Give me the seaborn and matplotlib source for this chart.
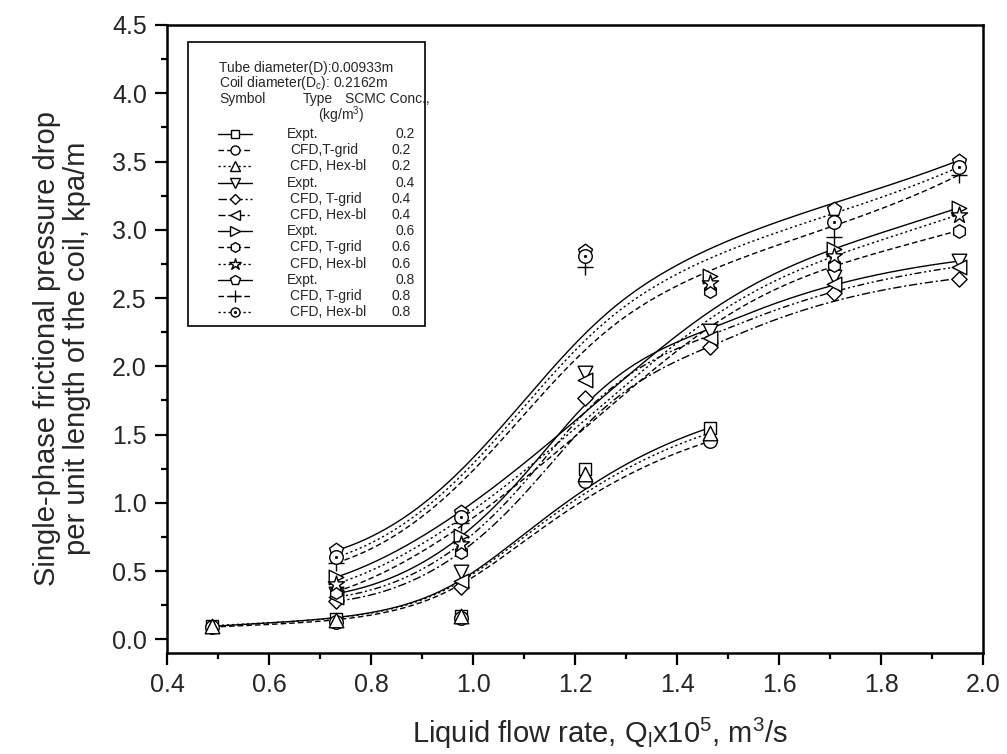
import numpy as np
import matplotlib
matplotlib.use("Agg")
import matplotlib.pyplot as plt
import seaborn as sns
from matplotlib.lines import Line2D
from matplotlib.patches import Rectangle

# ---------------- data ----------------
x_02 = [0.488, 0.732, 0.976, 1.220, 1.464]
expt_02 = [0.095, 0.150, 0.170, 1.245, 1.550]
tgrid_02 = [0.090, 0.130, 0.160, 1.160, 1.450]
hex_02 = [0.100, 0.145, 0.170, 1.210, 1.510]

x_04 = [0.732, 0.976, 1.220, 1.464, 1.708, 1.952]
expt_04 = [0.335, 0.495, 1.950, 2.257, 2.652, 2.770]
tgrid_04 = [0.280, 0.380, 1.770, 2.140, 2.537, 2.643]
hex_04 = [0.310, 0.430, 1.900, 2.210, 2.600, 2.730]

x_06 = [0.732, 0.976, 1.464, 1.708, 1.952]
expt_06 = [0.456, 0.756, 2.660, 2.862, 3.160]
tgrid_06 = [0.350, 0.640, 2.550, 2.745, 2.994]
hex_06 = [0.407, 0.695, 2.610, 2.806, 3.110]

x_08 = [0.732, 0.976, 1.220, 1.708, 1.952]
expt_08 = [0.651, 0.934, 2.848, 3.155, 3.507]
tgrid_08 = [0.560, 0.854, 2.730, 2.945, 3.400]
hex_08 = [0.602, 0.895, 2.806, 3.057, 3.458]

concentrations = ["0.2", "0.4", "0.6", "0.8"]
type_labels = [
    ["Expt.", "CFD,T-grid", "CFD, Hex-bl"],
    ["Expt.", "CFD, T-grid", "CFD, Hex-bl"],
    ["Expt.", "CFD, T-grid", "CFD, Hex-bl"],
    ["Expt.", "CFD, T-grid", "CFD, Hex-bl"],
]
x_ticks = [0.4, 0.6, 0.8, 1.0, 1.2, 1.4, 1.6, 1.8, 2.0]
y_ticks = [0.0, 0.5, 1.0, 1.5, 2.0, 2.5, 3.0, 3.5, 4.0, 4.5]

# ---------------- style ----------------
sns.set_style("ticks")
plt.rcParams["font.family"] = ["Liberation Sans", "DejaVu Sans"]
plt.rcParams["mathtext.fontset"] = "custom"
plt.rcParams["mathtext.rm"] = "Liberation Sans"
plt.rcParams["mathtext.it"] = "Liberation Sans:italic"
plt.rcParams["mathtext.bf"] = "Liberation Sans:bold"

SOLID = "-"
DASH = (0, (4, 2.2))
DOT = (0, (1.6, 2.0))
DASHDOT = (0, (6, 2, 1.5, 2))
DASHDOTDOT = (0, (5, 2, 1.5, 2, 1.5, 2))

series = [
    (x_02, expt_02, "s", SOLID),
    (x_02, tgrid_02, "o", DASH),
    (x_02, hex_02, "^", DOT),
    (x_04, expt_04, "v", SOLID),
    (x_04, tgrid_04, "D", DASHDOT),
    (x_04, hex_04, "<", DASHDOTDOT),
    (x_06, expt_06, ">", SOLID),
    (x_06, tgrid_06, "h", DASH),
    (x_06, hex_06, "*", DOT),
    (x_08, expt_08, "p", SOLID),
    (x_08, tgrid_08, "+", DASH),
    (x_08, hex_08, "odot", DOT),
]
marker_size = {"s": 85, "o": 95, "^": 110, "v": 110, "D": 60, "<": 110, ">": 110,
               "h": 95, "*": 150, "p": 110, "+": 140, "odot": 95}


def bspline(xs, ys, n=400):
    """Clamped uniform B-spline using the data points as control points."""
    P = np.column_stack([xs, ys]).astype(float)
    m = len(P)
    k = min(3, m - 1)
    n_int = m - k - 1
    knots = np.concatenate([np.zeros(k + 1),
                            np.linspace(0, 1, n_int + 2)[1:-1],
                            np.ones(k + 1)])
    T = np.linspace(0, 1, n)
    N = np.zeros((len(knots) - 1, n))
    for i in range(len(knots) - 1):
        N[i] = ((knots[i] <= T) & (T < knots[i + 1])).astype(float)
    last = np.max(np.where(knots[:-1] < knots[1:])[0])
    N[last, -1] = 1.0
    for p in range(1, k + 1):
        Nn = np.zeros((len(knots) - 1 - p, n))
        for i in range(len(knots) - 1 - p):
            d1 = knots[i + p] - knots[i]
            d2 = knots[i + p + 1] - knots[i + 1]
            a = (T - knots[i]) / d1 * N[i] if d1 > 0 else 0.0
            b = (knots[i + p + 1] - T) / d2 * N[i + 1] if d2 > 0 else 0.0
            Nn[i] = a + b
        N = Nn
    C = N.T @ P
    return C[:, 0], C[:, 1]


W, H = 1007, 754
fig = plt.figure(figsize=(W / 100, H / 100), dpi=100)
L, R, B, Tp = 167, 983, 653, 25
ax = fig.add_axes([L / W, 1 - B / H, (R - L) / W, (B - Tp) / H])

# curves
for xs, ys, mk, ls in series:
    cx, cy = bspline(xs, ys)
    sns.lineplot(x=cx, y=cy, sort=False, estimator=None, color="black",
                 linewidth=1.0, linestyle=ls, ax=ax, zorder=2)

# markers
for xs, ys, mk, ls in series:
    if mk == "+":
        sns.scatterplot(x=xs, y=ys, marker="+", s=marker_size[mk], color="black",
                        linewidth=1.0, ax=ax, zorder=4)
    elif mk == "odot":
        sns.scatterplot(x=xs, y=ys, marker="o", s=marker_size[mk], color="white",
                        edgecolor="black", linewidth=1.0, ax=ax, zorder=4)
        sns.scatterplot(x=xs, y=ys, marker="o", s=3, color="black",
                        edgecolor="black", linewidth=0.5, ax=ax, zorder=5)
    else:
        sns.scatterplot(x=xs, y=ys, marker=mk, s=marker_size[mk], color="white",
                        edgecolor="black", linewidth=1.0, ax=ax, zorder=4)

ax.set_xlim(0.4, 2.0)
ax.set_ylim(-0.1, 4.5)
ax.set_xticks(x_ticks)
ax.set_xticklabels([f"{v:.1f}" for v in x_ticks])
ax.set_yticks(y_ticks)
ax.set_yticklabels([f"{v:.1f}" for v in y_ticks])
ax.set_xticks(np.arange(0.5, 2.0, 0.2), minor=True)
ax.set_yticks(np.arange(0.25, 4.5, 0.5), minor=True)
ax.tick_params(which="major", direction="out", length=8.5, width=1.6,
               labelsize=18, color="black", pad=6)
ax.tick_params(which="minor", direction="out", length=4.5, width=1.6, color="black")
for sp in ax.spines.values():
    sp.set_visible(True)
    sp.set_linewidth(1.8)
    sp.set_color("black")

ax.set_xlabel("Liquid flow rate, Q$_\\mathregular{l}$x10$^\\mathregular{5}$, m$^\\mathregular{3}$/s",
              fontsize=21)
ax.xaxis.set_label_coords((600 - L) / (R - L), -(733 - B) / (B - Tp), transform=ax.transAxes)
ax.xaxis.label.set_va("center")
ax.set_ylabel("Single-phase frictional pressure drop\nper unit length of the coil, kpa/m",
              fontsize=21, linespacing=1.1)
ax.yaxis.set_label_coords(-(167 - 62) / (R - L), (B - 348) / (B - Tp), transform=ax.transAxes)
ax.yaxis.label.set_va("center")


# ---------------- legend box (in figure pixels) ----------------
def fx(px):
    return px / W


def fy(py):
    return 1 - py / H


box_l, box_t, box_r, box_b = 188, 42, 425, 326
fig.patches.append(Rectangle((fx(box_l), fy(box_b)), fx(box_r) - fx(box_l),
                             fy(box_t) - fy(box_b), transform=fig.transFigure,
                             fill=False, lw=1.2, ec="black", zorder=10))
fs = 10
fig.text(fx(219), fy(68), "Tube diameter(D):0.00933m", fontsize=fs, va="center")
fig.text(fx(219), fy(83), "Coil diameter(D$_\\mathregular{c}$): 0.2162m", fontsize=fs, va="center")
fig.text(fx(219), fy(99), "Symbol", fontsize=fs, va="center")
fig.text(fx(303), fy(99), "Type", fontsize=fs, va="center")
fig.text(fx(345), fy(99), "SCMC Conc.,", fontsize=fs, va="center")
fig.text(fx(318), fy(115), "(kg/m$^\\mathregular{3}$)", fontsize=fs, va="center")

leg_ms = {"s": 6, "o": 6.5, "^": 7.5, "v": 7.5, "D": 5.5, "<": 7.5, ">": 7.5,
          "h": 7, "*": 9, "p": 7.5, "+": 8, "odot": 6.5}
row_y0, row_dy = 134, 16.2
for idx, (xs, ys, mk, ls) in enumerate(series):
    g, j = divmod(idx, 3)
    yy = fy(row_y0 + idx * row_dy)
    fig.add_artist(Line2D([fx(218), fx(252)], [yy, yy], transform=fig.transFigure,
                          color="black", lw=1.0, linestyle=ls))
    if mk == "+":
        fig.add_artist(Line2D([fx(235)], [yy], transform=fig.transFigure, marker="+",
                              ms=leg_ms[mk], color="black", mew=1.0, ls="none"))
    else:
        m = "o" if mk == "odot" else mk
        fig.add_artist(Line2D([fx(235)], [yy], transform=fig.transFigure, marker=m,
                              ms=leg_ms[mk], mfc="white", mec="black", mew=1.0, ls="none"))
        if mk == "odot":
            fig.add_artist(Line2D([fx(235)], [yy], transform=fig.transFigure, marker="o",
                                  ms=1.2, mfc="black", mec="black", ls="none"))
    tx = 287 if j == 0 else 290
    vx = 395 if j == 0 else 391
    fig.text(fx(tx), yy, type_labels[g][j], fontsize=fs, va="center")
    fig.text(fx(vx), yy, concentrations[g], fontsize=fs, va="center")

fig.savefig("out.png", dpi=100)
